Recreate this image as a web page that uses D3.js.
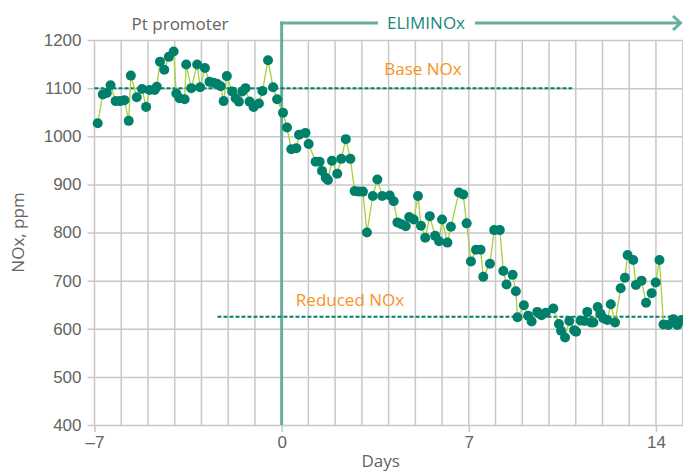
<!DOCTYPE html>
<html>
<head>
<meta charset="utf-8">
<script src="https://cdn.jsdelivr.net/npm/d3@7"></script>
<style>
  body { margin: 0; background: #fff; }
  svg { display: block; font-family: "Open Sans", sans-serif; }
</style>
</head>
<body>
<svg id="chart"></svg>
<script>
// days since switch to ELIMINOx, and measured NOx (ppm)
var days = [
  -6.88, -6.69, -6.54, -6.40, -6.21, -6.04, -5.88, -5.72, -5.64, -5.42,
  -5.22, -5.07, -4.94, -4.75, -4.67, -4.55, -4.39, -4.22, -4.04, -3.94,
  -3.82, -3.63, -3.57, -3.38, -3.16, -3.05, -2.87, -2.70, -2.55, -2.42,
  -2.28, -2.17, -2.05, -1.85, -1.72, -1.60, -1.47, -1.35, -1.20, -1.05,
  -0.85, -0.72, -0.51, -0.32, -0.17, 0.05, 0.20, 0.36, 0.55, 0.65,
  0.89, 1.01, 1.27, 1.42, 1.51, 1.65, 1.73, 1.88, 2.08, 2.23,
  2.40, 2.57, 2.73, 2.89, 3.04, 3.19, 3.41, 3.58, 3.76, 4.04,
  4.19, 4.33, 4.48, 4.64, 4.77, 4.94, 5.10, 5.21, 5.37, 5.54,
  5.74, 5.89, 6.00, 6.20, 6.33, 6.63, 6.79, 6.92, 7.08, 7.27,
  7.44, 7.54, 7.79, 7.95, 8.16, 8.29, 8.41, 8.64, 8.76, 8.82,
  9.06, 9.22, 9.35, 9.56, 9.72, 9.88, 10.16, 10.37, 10.45, 10.60,
  10.76, 10.94, 11.01, 11.18, 11.32, 11.43, 11.57, 11.66, 11.82, 11.93,
  12.03, 12.18, 12.31, 12.47, 12.68, 12.84, 12.94, 13.15, 13.25, 13.46,
  13.63, 13.84, 13.99, 14.13, 14.28, 14.46, 14.65, 14.80, 14.96
];
var nox = [
  1027, 1087, 1090, 1106, 1073, 1073, 1075, 1032, 1126, 1081,
  1098, 1061, 1096, 1096, 1103, 1155, 1138, 1165, 1176, 1089,
  1079, 1077, 1149, 1100, 1149, 1102, 1142, 1113, 1111, 1109,
  1104, 1073, 1125, 1093, 1079, 1072, 1093, 1100, 1072, 1061,
  1068, 1094, 1158, 1102, 1077, 1049, 1018, 973, 975, 1003,
  1007, 984, 947, 947, 928, 914, 909, 949, 922, 953,
  994, 953, 886, 885, 885, 800, 876, 910, 876, 877,
  865, 821, 817, 813, 832, 827, 876, 814, 789, 834,
  793, 782, 827, 779, 812, 883, 879, 819, 740, 764,
  764, 708, 735, 805, 805, 720, 692, 712, 678, 624,
  649, 627, 615, 635, 628, 633, 642, 610, 596, 582,
  616, 597, 594, 617, 616, 635, 613, 613, 645, 631,
  622, 618, 651, 613, 684, 706, 753, 743, 691, 700,
  654, 674, 696, 743, 609, 608, 620, 608, 618
];

var yTicks = [400, 500, 600, 700, 800, 900, 1000, 1100, 1200];
var xTicks = [-7, 0, 7, 14];
var xTickLabels = ["\u20137", "0", "7", "14"];
var baseNox = 1100, baseRange = [-7, 10.86];
var reducedNox = 625, reducedRange = [-2.4, 15];

var screen = { width: 683, height: 471 };
var plot = { left: 94.5, right: 682.7, top: 40, bottom: 425 };

var svg = d3.select('#chart')
  .attr('width', screen.width)
  .attr('height', screen.height);

var xScale = d3.scaleLinear().domain([-7, 15]).range([plot.left, plot.right]);
var yScale = d3.scaleLinear().domain([400, 1200]).range([plot.bottom, plot.top]);

var gridColor = '#c8c8c8';
var textColor = '#646464';
var teal = '#00806b';

// vertical grid, one per day
var grid = svg.append('g').classed('grid', true);
grid.selectAll('line.v')
  .data(d3.range(-7, 16))
  .enter().append('line')
  .attr('class', 'v')
  .attr('x1', function(d) { return xScale(d); })
  .attr('x2', function(d) { return xScale(d); })
  .attr('y1', plot.top)
  .attr('y2', plot.bottom)
  .attr('stroke', gridColor)
  .attr('stroke-width', 1.5);

// y axis with horizontal gridlines
var yAxis = d3.axisLeft(yScale)
  .tickValues(yTicks)
  .tickSize(plot.right - plot.left + 7)
  .tickPadding(6)
  .tickFormat(d3.format('d'));
var yG = svg.append('g')
  .attr('transform', 'translate(' + plot.right + ',0)')
  .call(yAxis);
yG.select('.domain').remove();
yG.selectAll('line').attr('stroke', gridColor).attr('stroke-width', 1.5);
yG.selectAll('text')
  .attr('fill', textColor)
  .style('font-size', '17px');

// x axis
var xAxis = d3.axisBottom(xScale)
  .tickValues(xTicks)
  .tickSize(7)
  .tickPadding(4)
  .tickFormat(function(d, i) { return xTickLabels[i]; });
var xG = svg.append('g')
  .attr('transform', 'translate(0,' + plot.bottom + ')')
  .call(xAxis);
xG.select('.domain').remove();
xG.selectAll('line').attr('stroke', gridColor).attr('stroke-width', 1.5);
xG.selectAll('text')
  .attr('fill', textColor)
  .style('font-size', '17px');

// axis titles
svg.append('text')
  .attr('x', (plot.left + plot.right) / 2 - 8)
  .attr('y', 467)
  .attr('text-anchor', 'middle')
  .attr('fill', textColor)
  .style('font-size', '17px')
  .text('Days');
svg.append('text')
  .attr('transform', 'translate(24,' + ((plot.top + plot.bottom) / 2) + ') rotate(-90)')
  .attr('text-anchor', 'middle')
  .attr('fill', textColor)
  .style('font-size', '17px')
  .text('NOx, ppm');

// ELIMINOx switch marker
var lineTeal = '#68ad9f';
var topY = 23;
svg.append('line')
  .attr('x1', xScale(0)).attr('x2', xScale(0))
  .attr('y1', plot.bottom).attr('y2', topY - 1.5)
  .attr('stroke', lineTeal).attr('stroke-width', 3);
svg.append('line')
  .attr('x1', xScale(0) - 1.5).attr('x2', 378)
  .attr('y1', topY).attr('y2', topY)
  .attr('stroke', lineTeal).attr('stroke-width', 3);
svg.append('line')
  .attr('x1', 475).attr('x2', 680)
  .attr('y1', topY).attr('y2', topY)
  .attr('stroke', lineTeal).attr('stroke-width', 3);
svg.append('path')
  .attr('d', 'M673,16 L680.5,' + topY + ' L673,30')
  .attr('fill', 'none')
  .attr('stroke', lineTeal).attr('stroke-width', 3);
svg.append('text')
  .attr('x', 426).attr('y', 29)
  .attr('text-anchor', 'middle')
  .attr('fill', '#16897a')
  .style('font-size', '17px')
  .text('ELIMINOx');
svg.append('text')
  .attr('x', 180).attr('y', 30)
  .attr('text-anchor', 'middle')
  .attr('fill', textColor)
  .style('font-size', '17px')
  .text('Pt promoter');

// reference levels
var orange = '#f7941d';
svg.append('line')
  .attr('x1', xScale(baseRange[0])).attr('x2', xScale(baseRange[1]))
  .attr('y1', yScale(baseNox)).attr('y2', yScale(baseNox))
  .attr('stroke', teal).attr('stroke-width', 2)
  .attr('stroke-dasharray', '4,2');
svg.append('line')
  .attr('x1', xScale(reducedRange[0])).attr('x2', xScale(reducedRange[1]))
  .attr('y1', yScale(reducedNox)).attr('y2', yScale(reducedNox))
  .attr('stroke', teal).attr('stroke-width', 2)
  .attr('stroke-dasharray', '4,2');
svg.append('text')
  .attr('x', 423).attr('y', 75)
  .attr('text-anchor', 'middle')
  .attr('fill', orange)
  .style('font-size', '17px')
  .text('Base NOx');
svg.append('text')
  .attr('x', 350).attr('y', 306)
  .attr('text-anchor', 'middle')
  .attr('fill', orange)
  .style('font-size', '17px')
  .text('Reduced NOx');

// data
var points = days.map(function(d, i) { return { day: d, v: nox[i] }; });
var line = d3.line()
  .x(function(d) { return xScale(d.day); })
  .y(function(d) { return yScale(d.v); });
svg.append('path')
  .datum(points)
  .attr('d', line)
  .attr('fill', 'none')
  .attr('stroke', '#a9cf3a')
  .attr('stroke-width', 1.3);
svg.append('g').selectAll('circle')
  .data(points)
  .enter().append('circle')
  .attr('cx', function(d) { return xScale(d.day); })
  .attr('cy', function(d) { return yScale(d.v); })
  .attr('r', 5)
  .attr('fill', teal);
</script>
</body>
</html>
